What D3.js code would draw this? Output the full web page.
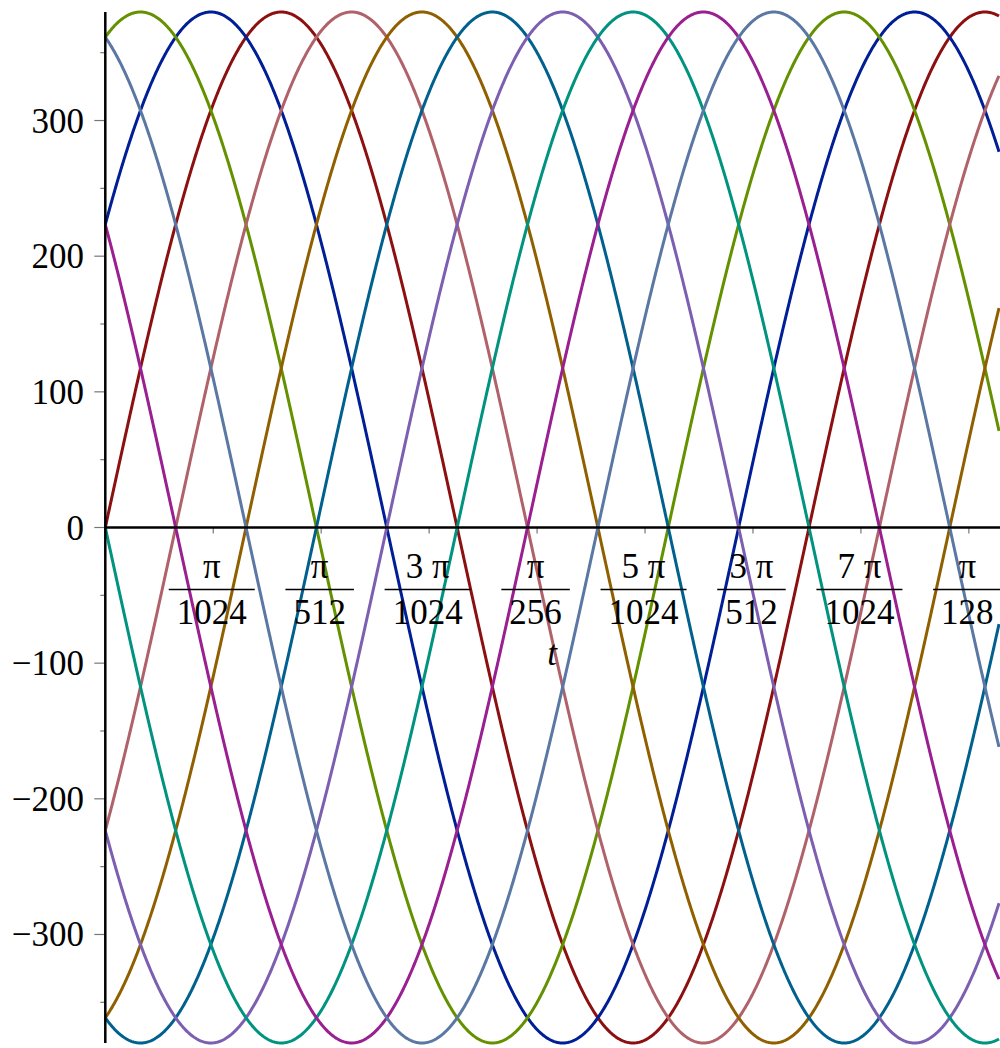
<!DOCTYPE html>
<html>
<head>
<meta charset="utf-8">
<script src="https://cdn.jsdelivr.net/npm/d3@7"></script>
<style>
  body { margin: 0; background: #fff; }
  svg { display: block; }
  text { font-family: "Liberation Serif", "DejaVu Serif", serif; font-size: 35px; fill: #000; }
</style>
</head>
<body>
<svg></svg>
<script>
// curve parameters: 380 sin(2*pi*50*t + phase)
var amplitude = 380;
var freqHz = 50;
var phasesDeg = [0, 36, 72, -36, -72, -108, -144, -180, -216, -252];
var colors = ['#8c1010', '#001e96', '#649100', '#b0626a', '#906000',
              '#00618f', '#7c5fb0', '#00937f', '#9a1f90', '#5a78a3'];

var tEnd = 0.0254;
var xTickK = [1, 2, 3, 4, 5, 6, 7, 8];           // multiples of pi/1024
var xTickNum = ['π', 'π', '3 π', 'π', '5 π', '3 π', '7 π', 'π'];
var xTickDen = ['1024', '512', '1024', '256', '1024', '512', '1024', '128'];
var yTicks = [-300, -200, -100, 0, 100, 200, 300];
var yMinor = [-350, -250, -150, -50, 50, 150, 250, 350];

var width = 1000;
var height = 1048;

var svg = d3.select('svg')
            .attr('width', width)
            .attr('height', height);

var xScale = d3.scaleLinear()
               .domain([0, tEnd])
               .range([105.3, 999]);

var yScale = d3.scaleLinear()
               .domain([-amplitude, amplitude])
               .range([1043, 12]);

var samples = d3.range(0, 1201).map(i => tEnd * i / 1200);

var line = d3.line()
             .x(d => xScale(d.t))
             .y(d => yScale(d.v));

svg.append('g')
    .selectAll('path')
    .data(phasesDeg)
    .enter()
    .append('path')
      .attr('fill', 'none')
      .attr('stroke', (d, i) => colors[i])
      .attr('stroke-width', 3)
      .attr('d', function(ph) {
        var pts = samples.map(t => ({
          t: t,
          v: amplitude * Math.sin(2 * Math.PI * freqHz * t + ph * Math.PI / 180)
        }));
        return line(pts);
      });

// y axis
var x0 = xScale(0);
var y0 = yScale(0);

svg.append('g')
    .selectAll('line.major')
    .data(yTicks)
    .enter()
    .append('line')
      .attr('x1', x0 - 11)
      .attr('x2', x0)
      .attr('y1', d => yScale(d))
      .attr('y2', d => yScale(d))
      .attr('stroke', '#777')
      .attr('stroke-width', 1.2);

svg.append('g')
    .selectAll('line.minor')
    .data(yMinor)
    .enter()
    .append('line')
      .attr('x1', x0 - 5)
      .attr('x2', x0)
      .attr('y1', d => yScale(d))
      .attr('y2', d => yScale(d))
      .attr('stroke', '#777')
      .attr('stroke-width', 1.2);

svg.append('g')
    .selectAll('text')
    .data(yTicks)
    .enter()
    .append('text')
      .attr('x', 84)
      .attr('y', d => yScale(d) + 12)
      .attr('text-anchor', 'end')
      .text(d => d < 0 ? '\u2212' + Math.abs(d) : d);

// x ticks with fraction labels
var unit = Math.PI / 1024;

svg.append('g')
    .selectAll('line')
    .data(xTickK)
    .enter()
    .append('line')
      .attr('x1', d => xScale(d * unit))
      .attr('x2', d => xScale(d * unit))
      .attr('y1', y0)
      .attr('y2', y0 + 6)
      .attr('stroke', '#777')
      .attr('stroke-width', 1.2);

var frac = svg.append('g')
    .selectAll('g')
    .data(xTickK)
    .enter()
    .append('g')
      .attr('transform', d => 'translate(' + (xScale(d * unit) - 1.5) + ',0)');

frac.append('text')
    .attr('y', 578)
    .attr('text-anchor', 'middle')
    .text((d, i) => xTickNum[i]);

frac.append('text')
    .attr('class', 'den')
    .attr('y', 624)
    .attr('text-anchor', 'middle')
    .text((d, i) => xTickDen[i]);

frac.each(function() {
  var g = d3.select(this);
  var w = g.select('.den').node().getComputedTextLength() + 16;
  g.append('line')
      .attr('x1', -w / 2)
      .attr('x2', w / 2)
      .attr('y1', 589.5)
      .attr('y2', 589.5)
      .attr('stroke', '#000')
      .attr('stroke-width', 1.5);
});

// axis lines on top
svg.append('line')
    .attr('x1', x0)
    .attr('x2', width)
    .attr('y1', y0)
    .attr('y2', y0)
    .attr('stroke', '#000')
    .attr('stroke-width', 2.5);

svg.append('line')
    .attr('x1', x0)
    .attr('x2', x0)
    .attr('y1', 12)
    .attr('y2', 1043)
    .attr('stroke', '#000')
    .attr('stroke-width', 2.5);

svg.append('text')
    .attr('x', 552)
    .attr('y', 665)
    .attr('text-anchor', 'middle')
    .style('font-style', 'italic')
    .text('t');
</script>
</body>
</html>
